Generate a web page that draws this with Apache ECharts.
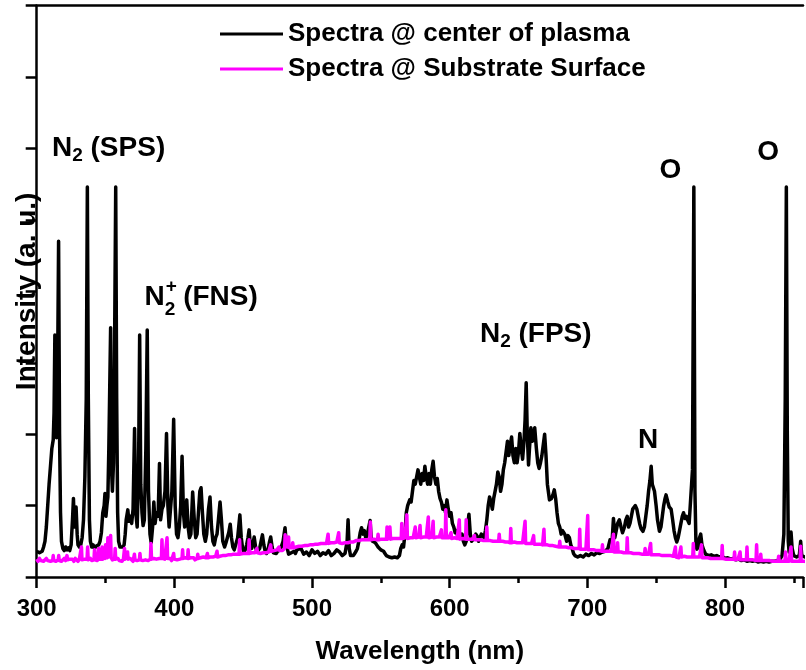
<!DOCTYPE html>
<html>
<head>
<meta charset="utf-8">
<title>Optical emission spectra</title>
<script src="https://cdn.jsdelivr.net/npm/echarts@6/dist/echarts.min.js"></script>
<style>
  html, body { margin: 0; padding: 0; background: #fff; }
  #chart { width: 806px; height: 670px; }
</style>
</head>
<body>
<div id="chart"></div>
<script>
// Wavelength axis: labelled ticks (nm) and the visible end of the scale
const xTicks = [300, 400, 500, 600, 700, 800];
const xMin = 300, xMax = 856.7;

// Emission spectrum taken at the centre of the plasma: [wavelength nm, intensity a.u.]
const centerSpectrum = [
  [300,0.36],[302,0.34],[304,0.36],[305,0.42],[306,0.5],[307,0.7],[308,1.0],[309,1.3],[310,1.55],[311,1.8],[312,1.92],[312.6,2.3],[313.2,3.39],[313.8,2.2],[314.4,1.95],[315.0,2.4],[315.9,4.70],[316.6,2.0],[317.3,0.9],[318,0.5],[319,0.4],[320,0.37],[321,0.42],[322,0.38],[323,0.41],[324,0.37],[325,0.45],[326,0.8],[326.7,1.1],[327.4,0.7],[328,0.85],[328.6,0.98],[329.4,0.6],[330,0.45],[331,0.42],[332,0.45],[333,0.55],[334,0.8],[335,1.4],[336,2.5],[336.8,5.46],[337.5,2.5],[338.3,0.8],[339,0.5],[340,0.42],[341,0.45],[342,0.4],[343,0.43],[344,0.41],[345,0.45],[346,0.5],[347,0.62],[348,0.9],[349,1.0],[349.6,1.17],[350.3,0.85],[351,1.0],[351.7,1.12],[352.4,1.8],[353.7,3.49],[354.4,1.5],[355,1.2],[355.8,1.6],[356.5,3.0],[357.4,5.46],[358.1,2.5],[358.8,0.9],[359.5,0.5],[360.5,0.42],[361.5,0.4],[362.5,0.42],[363.5,0.45],[364.3,0.6],[365,0.8],[366.2,0.94],[367,0.78],[368,0.85],[369,0.75],[370,0.95],[371.1,2.08],[372,0.9],[373,0.7],[374,1.5],[374.8,3.39],[375.6,1.3],[376.5,0.9],[377.3,0.72],[378.2,0.8],[379.3,1.8],[380.3,3.46],[381.2,1.2],[382.3,0.6],[383.2,0.48],[384.2,0.7],[385.1,1.05],[386,0.75],[387,0.9],[388.2,0.85],[389.2,1.59],[390,0.8],[391,0.95],[392,1.0],[393.2,1.2],[394.3,2.01],[395.3,1.0],[396.2,0.7],[397,0.9],[398.2,1.2],[399.5,2.21],[400.6,1.0],[401.6,0.6],[402.6,0.55],[403.6,0.7],[404.6,1.0],[405.6,1.69],[406.6,0.9],[407.5,0.7],[408.3,0.8],[409,1.08],[410,0.7],[411,0.55],[412,0.6],[413.3,1.19],[414.5,0.8],[415.5,0.55],[416.5,0.6],[417.5,0.9],[418.5,1.2],[419.4,1.25],[420.4,0.9],[421.4,0.6],[422.5,0.5],[423.5,0.6],[424.8,0.95],[425.9,1.12],[427,0.7],[428,0.5],[429,0.45],[430,0.55],[431,0.6],[432,0.8],[433.2,1.05],[434.2,0.8],[435.2,0.5],[436.5,0.42],[437.5,0.48],[438.5,0.55],[439.5,0.62],[440.6,0.74],[441.5,0.55],[442.5,0.42],[443.5,0.38],[444.5,0.4],[446,0.55],[447.6,0.87],[448.6,0.55],[449.6,0.4],[450.5,0.35],[451.5,0.38],[452.5,0.45],[453.5,0.55],[454.3,0.66],[455.2,0.45],[456.2,0.4],[457.2,0.48],[458,0.56],[459,0.42],[460,0.35],[461,0.34],[462,0.4],[463,0.5],[464,0.59],[465,0.45],[466,0.36],[467,0.33],[468,0.38],[469,0.48],[470,0.56],[471,0.42],[472,0.34],[473,0.32],[474,0.33],[475,0.36],[476,0.35],[477,0.38],[478,0.4],[479,0.5],[480.4,0.69],[481.2,0.5],[482,0.4],[483,0.32],[484,0.3],[485,0.34],[486,0.32],[487,0.36],[488,0.33],[489,0.38],[490,0.36],
  [492,0.4],[494,0.32],[496,0.35],[498,0.3],[500,0.38],[502,0.33],[504,0.36],[506,0.3],[508,0.34],[510,0.32],[512,0.37],[514,0.3],[516,0.33],[518,0.38],[520,0.35],[522,0.3],[524,0.33],[525.5,0.5],[526.2,0.8],[527,0.4],[528,0.3],[529,0.28],[530,0.3],[531,0.33],[532,0.36],[533,0.4],[534,0.5],[535,0.62],[536,0.69],[537,0.6],[538,0.65],[539,0.55],[540,0.58],[541,0.6],[542.2,0.79],[543,0.55],[544,0.5],[545,0.52],[546,0.48],[547,0.45],[548,0.42],[549,0.4],[550,0.38],[551,0.4],[552,0.36],[553,0.33],[554,0.3],[556,0.28],[558,0.27],[560,0.28],[562,0.27],[563.5,0.3],[564.5,0.4],[565.5,0.45],[566.5,0.42],[567.5,0.6],[568.5,0.9],[569.5,1.0],[571,1.08],[572,1.05],[573,1.2],[574,1.35],[575,1.3],[576,1.4],[577,1.5],[578,1.52],[579,1.3],[580,1.45],[581,1.35],[582,1.55],[583,1.4],[584,1.3],[585,1.45],[586,1.3],[587,1.5],[588,1.62],[589,1.4],[590,1.3],[591,1.38],[592,1.2],[593,1.1],[594,1.05],[595,0.95],[596,1.0],[597,0.9],[598,1.08],[599,0.95],[600,0.85],[601,0.9],[602,0.75],[603,0.7],[604,0.62],[605,0.65],[606,0.55],[607,0.6],[608,0.55],[609,0.6],[610,0.5],[611,0.45],[612,0.5],[613,0.7],[614,0.88],[615,0.6],[616,0.5],[617,0.48],[618,0.55],[619,0.6],[620,0.57],[621,0.5],[622,0.55],[623,0.6],[624,0.58],[625,0.55],[626,0.65],[627,0.8],[628,1.0],[629,1.12],[630,1.05],[631,0.95],[632,1.1],[633,1.2],[634,1.3],[635,1.47],[636,1.4],[637,1.2],[638,1.3],[639,1.5],[640,1.6],[641,1.75],[642,1.9],[643,1.7],[644,1.85],[645,1.96],[646,1.7],[647,1.6],[648,1.8],[649,1.6],[650,1.75],[651,2.01],[652,1.8],[653,1.65],[654,1.9],[654.8,2.2],[655.6,2.72],[656.4,2.0],[657.3,1.57],[658,1.8],[659,2.09],[660,1.9],[661,1.95],[661.8,2.09],[663,1.8],[664,1.6],[665,1.52],[666,1.6],[667,1.7],[668,1.85],[669,2.0],[670,1.7],[671,1.3],[672.5,1.08],[674,1.1],[675,1.15],[676,1.22],[677,1.1],[678,0.9],[679,0.75],[680,0.7],[681,0.6],[682,0.65],[683.6,0.6],[685,0.5],[686,0.58],[687,0.55],[688,0.45],[689,0.4],[690,0.33],[691,0.3],[693,0.28],[695,0.3],[697,0.28],[699,0.32],[701,0.3],[703,0.33],[705,0.31],[707,0.34],[709,0.33],[711,0.35],[713,0.36],[715,0.4],[716.5,0.52],[718,0.5],[719,0.82],[720,0.55],[721,0.65],[722,0.75],[723.3,0.8],[724.5,0.7],[725.6,0.62],[727,0.7],[728,0.8],[729,0.85],[730,0.7],[731,0.75],[732,0.85],[733,0.95],[734.9,1.0],[736,0.95],[737,0.85],[738,0.75],[739,0.68],[740.4,0.64],[741.5,0.7],[742.5,0.85],[743.5,1.0],[744.5,1.2],[745.5,1.35],[746.4,1.55],[747.2,1.3],[748.8,1.2],[750,1.0],[751,0.8],[752.4,0.64],[753.5,0.7],[754.5,0.85],[755.5,1.0],[756.5,1.1],[757.2,1.15],[758.5,1.05],[759.5,0.98],[760.9,0.95],[762,0.8],[763,0.65],[764,0.55],[765,0.49],[766,0.55],[767,0.65],[768,0.75],[769,0.85],[769.9,0.9],[771,0.82],[772,0.85],[772.8,0.8],[774,0.75],[775.2,0.75],[776.4,1.5],[777.4,5.46],[778.2,1.2],[778.9,0.5],[779.6,0.39],[780.5,0.42],[781.5,0.55],[782.4,0.6],[783.3,0.45],[784.5,0.38],[786,0.32],[788,0.3],[790,0.31],[792,0.29],[794,0.3],[796,0.28],[798,0.29],[800,0.26],[802,0.27],[804,0.25],[806,0.26],[808,0.24],[810,0.25],[812,0.23],[814,0.24],[816,0.22],[818,0.23],[820,0.22],[822,0.23],[824,0.21],[826,0.22],[828,0.21],[830,0.22],[832,0.21],[834,0.22],[836,0.22],[838,0.23],[840,0.25],[841.5,0.3],[842.8,0.6],[843.8,2.5],[844.6,5.46],[845.3,2.0],[846,0.5],[846.6,0.35],[847.3,0.45],[848,0.63],[848.8,0.4],[850,0.3],[852,0.28],[854,0.3],[855,0.5],[855.8,0.3],[858,0.28],[860,0.27]
];

// Emission spectrum taken at the substrate surface: [wavelength nm, intensity a.u.]
const substrateSpectrum = [
  [300,0.25],[301,0.22],[302,0.26],[303,0.23],[304,0.25],[305,0.22],[306,0.24],[307,0.26],[308,0.23],[309,0.25],[310,0.22],[311,0.24],[311.6,0.23],[312,0.3],[312.4,0.23],[313,0.25],[314,0.22],[315,0.24],[315.6,0.24],[316,0.3],[316.4,0.23],[317,0.25],[318,0.22],[319,0.24],[320,0.26],[321,0.23],[321.6,0.24],[322,0.3],[322.4,0.24],[323,0.22],[324,0.25],[325,0.23],[326,0.25],[327,0.22],[328,0.26],[329,0.24],[330,0.22],[331,0.25],[332.1,0.24],[332.5,0.42],[332.9,0.24],[334,0.22],[335,0.25],[336,0.23],[336.6,0.25],[337,0.42],[337.4,0.24],[338,0.22],[339,0.26],[340,0.23],[341,0.25],[341.6,0.24],[342,0.38],[342.4,0.24],[343,0.26],[344,0.23],[344.6,0.25],[345,0.4],[345.4,0.25],[346,0.23],[347.1,0.25],[347.5,0.42],[347.9,0.25],[348.6,0.27],[349.2,0.3],[349.6,0.26],[350,0.45],[350.4,0.27],[351,0.3],[351.3,0.27],[351.7,0.55],[352.1,0.28],[352.7,0.3],[353.3,0.28],[353.7,0.58],[354.1,0.27],[355,0.24],[356,0.26],[356.6,0.25],[357,0.4],[357.4,0.25],[358,0.23],[359,0.26],[360,0.23],[361,0.25],[362,0.22],[363,0.25],[363.4,0.24],[363.8,0.4],[364.2,0.25],[365,0.23],[365.6,0.25],[366,0.35],[366.4,0.25],[367,0.23],[368,0.26],[369,0.24],[370,0.22],[370.6,0.24],[371,0.32],[371.4,0.24],[372,0.26],[373,0.23],[374,0.25],[374.6,0.24],[375,0.33],[375.4,0.24],[376,0.26],[377,0.23],[378,0.25],[379,0.24],[380,0.26],[381,0.23],[382,0.25],[382.6,0.25],[383,0.47],[383.4,0.25],[384,0.23],[385,0.26],[386,0.24],[387,0.25],[388,0.23],[389,0.26],[390,0.24],[390.6,0.26],[391,0.52],[391.4,0.26],[392,0.24],[393,0.25],[394.3,0.26],[394.7,0.55],[395.1,0.26],[396,0.24],[397,0.26],[398,0.23],[399.1,0.25],[399.5,0.33],[399.9,0.25],[401,0.27],[402,0.24],[403,0.26],[404,0.25],[405.6,0.26],[406,0.38],[406.4,0.26],[407,0.24],[408,0.27],[409,0.25],[409.6,0.26],[410,0.38],[410.4,0.26],[411,0.24],[412,0.27],[413,0.25],[414,0.27],[415,0.24],[416,0.26],[416.6,0.26],[417,0.32],[417.4,0.26],[418,0.25],[419,0.27],[420,0.25],[421,0.28],[422,0.26],[423,0.27],[423.6,0.27],[424,0.33],[424.4,0.27],[425,0.25],[426,0.28],[427,0.26],[428,0.28],[429,0.27],[430,0.29],[430.6,0.28],[431,0.36],[431.4,0.28],[432,0.27],[433,0.29],[434,0.28],[435,0.3],[436,0.28],[437,0.3],[438,0.29],[439,0.31],[440,0.29],[441,0.31],[442,0.3],[443,0.32],[444,0.3],[445,0.32],[446,0.31],[447,0.32],[447.4,0.52],[447.8,0.32],[449,0.31],[450,0.33],[451,0.31],[452,0.33],[453,0.32],[453.9,0.33],[454.3,0.52],[454.7,0.33],[455.5,0.32],[456.5,0.34],[457.5,0.33],[458.5,0.34],[459.6,0.34],[460,0.4],[460.4,0.34],[461.5,0.35],[462.5,0.33],[463.5,0.35],[464.5,0.34],[465.5,0.36],[466.5,0.34],[467.5,0.36],[468.5,0.35],[469.6,0.36],[470,0.45],[470.4,0.36],[471.5,0.35],[472.5,0.37],[473.5,0.36],[474.5,0.38],[475.6,0.37],[476,0.42],[476.4,0.37],[477.5,0.38],[478.5,0.37],[479.5,0.39],[480.1,0.4],[480.5,0.59],[480.9,0.42],[481.6,0.45],[482.2,0.43],[482.6,0.42],[483,0.56],[483.4,0.41],[484.5,0.4],[485.6,0.41],[486,0.48],[486.4,0.41],[487.5,0.4],[488.5,0.42],[489.5,0.41],[490.5,0.43],[491.5,0.41],[492.5,0.43],[493.5,0.42],[494.5,0.44],[495.5,0.42],[496.5,0.44],[497.5,0.43],[498.5,0.45],[499.5,0.43],[500.5,0.45],[501.5,0.44],[502.5,0.46],[503.5,0.44],[504.5,0.46],[505.5,0.45],[506.5,0.47],[507.5,0.45],[508.5,0.47],[509.5,0.46],[510.5,0.47],[511.3,0.47],[511.7,0.6],[512.1,0.47],[513,0.46],[514,0.48],[515,0.46],[516,0.48],[517,0.47],[518,0.49],[519,0.48],[519.4,0.62],[519.8,0.48],[521,0.49],[522,0.47],[523,0.49],[524,0.48],[525,0.5],[526,0.48],[527,0.5],[528,0.49],[529,0.5],[530,0.49],
  [531,0.49],[532,0.51],[533,0.49],[534,0.51],[535,0.5],[536,0.52],[537,0.5],[538,0.52],[539,0.51],[540,0.52],[541,0.5],[542,0.52],[542.4,0.77],[542.8,0.52],[544,0.51],[545,0.53],[546,0.51],[547.6,0.52],[548,0.6],[548.4,0.52],[549.5,0.51],[550.5,0.53],[551.5,0.51],[552.5,0.53],[553.5,0.52],[554.1,0.53],[554.5,0.7],[554.9,0.53],[556.1,0.53],[556.6,0.7],[557.1,0.53],[558,0.52],[559,0.54],[560,0.52],[561,0.54],[562,0.53],[563,0.54],[564,0.52],[564.8,0.54],[565.2,0.75],[565.6,0.54],[566.5,0.53],[567.5,0.55],[568.5,0.54],[568.9,0.87],[569.3,0.54],[570.5,0.53],[571.5,0.55],[572.5,0.54],[573.5,0.55],[574.6,0.55],[575,0.7],[575.4,0.55],[576.5,0.54],[577.5,0.56],[578.1,0.55],[578.5,0.72],[578.9,0.55],[580,0.54],[581,0.56],[582,0.55],[583,0.56],[584.1,0.55],[584.5,0.84],[584.9,0.55],[586,0.54],[587,0.56],[587.6,0.55],[588,0.78],[588.4,0.55],[589.5,0.54],[590.5,0.56],[591.5,0.55],[592.5,0.56],[593.6,0.55],[594,0.66],[594.4,0.55],[595.5,0.54],[596.8,0.55],[597.2,0.94],[597.6,0.55],[598.5,0.54],[599.5,0.55],[600.6,0.54],[601,0.62],[601.4,0.54],[602.5,0.53],[603.5,0.55],[604.5,0.53],[605.5,0.54],[606.6,0.53],[607,0.8],[607.4,0.53],[608.5,0.52],[609.5,0.54],[610.5,0.52],[611.6,0.53],[612,0.8],[612.4,0.53],[613.5,0.52],[614.5,0.53],[615.5,0.51],[616.5,0.53],[617.6,0.52],[618,0.58],[618.4,0.52],[619.5,0.5],[620.5,0.52],[621.5,0.5],[622.5,0.52],[623.5,0.5],[624.5,0.51],[625.5,0.49],[626.6,0.51],[627,0.7],[627.4,0.51],[628.5,0.49],[629.5,0.51],[630.5,0.49],[631.5,0.5],[632.5,0.48],[633.5,0.5],[634.5,0.49],[635.6,0.5],[636,0.6],[636.4,0.5],[637.5,0.48],[638.5,0.5],[639.5,0.48],[640.5,0.49],[641.5,0.47],[642.5,0.49],[644,0.48],[644.4,0.68],[644.8,0.48],[646,0.47],[647,0.49],[648,0.47],[649,0.48],[650,0.46],[651,0.48],[652,0.46],[653,0.48],[654.4,0.47],[654.8,0.78],[655.2,0.47],[656.5,0.46],[657.5,0.47],[658.5,0.45],[659.5,0.47],[660.6,0.46],[661,0.58],[661.4,0.46],[662.5,0.45],[663.5,0.46],[664.5,0.44],[665.5,0.46],[666.5,0.44],[667.5,0.45],[668.1,0.45],[668.5,0.67],[668.9,0.45],[670,0.43],[671,0.45],[672,0.43],[673,0.44],[674,0.42],[675,0.44],[676,0.42],[677,0.43],[678,0.41],[679.6,0.42],[680,0.5],[680.4,0.42],[681.5,0.41],[682.5,0.42],[683.5,0.4],[684.5,0.42],[685.5,0.4],[686.5,0.41],[687.5,0.39],[688.5,0.41],[689.5,0.39],[690.5,0.4],[691.5,0.38],[692.5,0.4],[693.5,0.38],[694.1,0.4],[694.5,0.67],[694.9,0.39],[696,0.38],[697,0.39],[698,0.37],[699,0.39],[699.9,0.38],[700.3,0.86],[700.7,0.38],[702,0.37],[703,0.38],[704,0.36],[705,0.38],[706,0.36],[707,0.37],[708,0.35],[709,0.37],[710,0.35],[710.6,0.36],[711,0.45],[711.4,0.36],[712.5,0.35],[713.5,0.36],[714.5,0.34],[715.5,0.36],[716.5,0.34],[717.5,0.36],[718.6,0.35],[719,0.6],[719.4,0.35],[720.5,0.34],[721.6,0.35],[722,0.48],[722.4,0.35],[723.5,0.33],[724.5,0.35],[725.5,0.33],[726.5,0.34],[727.5,0.33],[728.6,0.34],[729,0.55],[729.4,0.34],[730.5,0.32],[731.5,0.34],[732.5,0.32],[733.5,0.33],[734.5,0.31],[735.5,0.33],[736.5,0.31],[737.5,0.33],[738.5,0.31],[739.5,0.32],[740.5,0.31],[741.6,0.32],[742,0.4],[742.4,0.32],[743.5,0.3],[744.5,0.32],[745.6,0.31],[746,0.47],[746.4,0.31],[747.5,0.3],[748.5,0.31],[749.5,0.29],[750.5,0.31],[751.5,0.29],[752.5,0.31],[753.5,0.29],[754.5,0.3],[755.5,0.29],[756.5,0.3],[757.5,0.28],[758.5,0.3],[759.5,0.28],[760.5,0.3],[761.5,0.28],[762.5,0.29],[763.6,0.28],[764,0.42],[764.4,0.28],[765.5,0.29],[766.5,0.27],[767.6,0.29],[768,0.42],[768.4,0.28],[769.5,0.27],[770.5,0.29],[771.5,0.27],[772.5,0.28],[773.5,0.27],[774.5,0.28],[775.5,0.26],[776.6,0.28],[777,0.47],[777.4,0.28],[778.5,0.27],[779.5,0.28],[780.5,0.26],[781.5,0.28],[782.6,0.27],[783,0.45],[783.4,0.27],[784.5,0.26],[785.5,0.27],[786.5,0.25],[787.5,0.27],[788.5,0.25],[789.5,0.26],[790.5,0.25],[791.5,0.26],[792.5,0.24],[793.5,0.26],[794.5,0.24],[795.5,0.26],[796.5,0.25],[797.6,0.26],[798,0.44],[798.4,0.26],[799.5,0.24],[800.5,0.25],[801.5,0.24],[802.5,0.25],[803.5,0.23],[804.5,0.25],[805.5,0.23],[806.6,0.25],[807,0.35],[807.4,0.24],[808.5,0.23],[809.5,0.25],[810.6,0.24],[811,0.35],[811.4,0.24],[812.5,0.23],[813.5,0.24],[814.5,0.22],[815.6,0.24],[816,0.42],[816.4,0.24],[817.5,0.23],[818.5,0.24],[819.5,0.22],[820.5,0.24],[821.5,0.22],[822.6,0.23],[823,0.45],[823.4,0.23],[824.5,0.22],[825.6,0.23],[826,0.32],[826.4,0.23],[827.5,0.22],[828.5,0.23],[829.5,0.21],[830.5,0.23],[831.5,0.21],[832.5,0.23],[833.5,0.21],[834.5,0.22],[835.5,0.21],[836.5,0.22],[837.5,0.21],[838.6,0.22],[839,0.29],[839.4,0.22],[840.5,0.21],[841.5,0.22],[842.5,0.21],[843.6,0.22],[844,0.35],[844.4,0.22],[845.5,0.21],[846.5,0.22],[847.6,0.22],[848,0.42],[848.4,0.22],[849.5,0.21],[850.5,0.22],[851.5,0.21],[852.5,0.22],[853.5,0.21],[854.6,0.22],[855,0.43],[855.4,0.22],[856.5,0.21],[858,0.22],[860,0.21]
];

const seriesNames = ['Spectra @ center of plasma', 'Spectra @ Substrate Surface'];

// Band / line assignments, anchored in data space [nm, intensity].
// Each part: text, optional 'sub' (subscript) and 'sup' (superscript stacked on the subscript)
const bandLabels = [
  { at: [311.1, 6.01], align: 'left',   parts: [{ t: 'N' }, { t: '2', sub: true }, { t: ' (SPS)' }] },
  { at: [378.4, 3.91], align: 'left',   parts: [{ t: 'N' }, { t: '2', sub: true, sup: '+' }, { t: ' (FNS)' }] },
  { at: [622.0, 3.40], align: 'left',   parts: [{ t: 'N' }, { t: '2', sub: true }, { t: ' (FPS)' }] },
  { at: [744.1, 1.91], align: 'center', parts: [{ t: 'N' }] },
  { at: [760.4, 5.70], align: 'center', parts: [{ t: 'O' }] },
  { at: [831.3, 5.95], align: 'center', parts: [{ t: 'O' }] }
];

const FONT = '"Liberation Sans", Arial, Helvetica, sans-serif';
const chart = echarts.init(document.getElementById('chart'), null, { renderer: 'canvas' });

const axisLineStyle = { color: '#000', width: 2.5 };

chart.setOption({
  animation: false,
  backgroundColor: '#fff',
  grid: { left: 36.7, top: 5.7, right: 0, height: 571.4, containLabel: false },
  legend: {
    orient: 'vertical',
    left: 215,
    top: 14,
    icon: 'rect',
    itemWidth: 63,
    itemHeight: 3,
    itemGap: 5,
    selectedMode: false,
    data: seriesNames,
    textStyle: {
      fontFamily: FONT, fontSize: 26, fontWeight: 'bold', color: '#000',
      lineHeight: 30
    }
  },
  xAxis: [
    {
      // main wavelength axis with labels and major ticks
      type: 'value',
      position: 'bottom',
      min: xMin, max: xMax, interval: 100,
      name: 'Wavelength (nm)',
      nameLocation: 'middle',
      nameGap: 62,
      nameTextStyle: { fontFamily: FONT, fontSize: 26, fontWeight: 'bold', color: '#000' },
      axisLine: { show: true, onZero: false, lineStyle: axisLineStyle },
      axisTick: { show: true, inside: false, length: 11, lineStyle: axisLineStyle },
      splitLine: { show: false },
      axisLabel: {
        show: true, margin: 20, color: '#000',
        fontFamily: FONT, fontSize: 24, fontWeight: 'bold',
        formatter: v => (xTicks.indexOf(v) >= 0 ? String(v) : '')
      }
    },
    {
      // half-step minor ticks on the same baseline
      type: 'value',
      position: 'bottom',
      min: xMin, max: xMax, interval: 50,
      axisLine: { show: false, onZero: false },
      axisTick: { show: true, inside: false, length: 6, lineStyle: axisLineStyle },
      axisLabel: { show: false },
      splitLine: { show: false }
    },
    {
      // top frame line
      type: 'value',
      position: 'top',
      min: xMin, max: xMax,
      axisLine: { show: true, onZero: false, lineStyle: axisLineStyle },
      axisTick: { show: false },
      axisLabel: { show: false },
      splitLine: { show: false }
    }
  ],
  yAxis: {
    type: 'value',
    min: 0, max: 8, interval: 1,
    name: 'Intensity (a. u.)',
    nameLocation: 'middle',
    nameGap: -5,
    nameTextStyle: { fontFamily: FONT, fontSize: 28, fontWeight: 'bold', color: '#000' },
    axisLine: { show: true, onZero: false, lineStyle: axisLineStyle },
    axisTick: { show: true, inside: false, length: 11, lineStyle: axisLineStyle },
    axisLabel: { show: false },
    splitLine: { show: false }
  },
  series: [
    {
      name: seriesNames[0],
      type: 'line',
      xAxisIndex: 0,
      data: centerSpectrum,
      showSymbol: false,
      symbol: 'none',
      smooth: false,
      sampling: null,
      lineStyle: { color: '#000', width: 3.5, join: 'round' },
      itemStyle: { color: '#000' },
      z: 2
    },
    {
      name: seriesNames[1],
      type: 'line',
      xAxisIndex: 0,
      data: substrateSpectrum,
      showSymbol: false,
      symbol: 'none',
      smooth: false,
      lineStyle: { color: '#ff00ff', width: 3.5, join: 'round' },
      itemStyle: { color: '#ff00ff' },
      z: 3
    }
  ]
});

// Band labels with chemical sub/superscripts, placed from data coordinates
const measureCtx = document.createElement('canvas').getContext('2d');
function textWidth(str, size) {
  measureCtx.font = 'bold ' + size + 'px ' + FONT;
  return measureCtx.measureText(str).width;
}

const MAIN = 28, SMALL = 19;
const elements = [];
bandLabels.forEach(lab => {
  const p = chart.convertToPixel({ gridIndex: 0 }, lab.at);
  let total = 0;
  lab.parts.forEach(pt => { total += textWidth(pt.t, pt.sub ? SMALL : MAIN); });
  let x = lab.align === 'center' ? p[0] - total / 2 : p[0];
  lab.parts.forEach(pt => {
    const size = pt.sub ? SMALL : MAIN;
    const dy = pt.sub ? (pt.sup ? 12 : 8) : 0;
    elements.push({
      type: 'text', x: x, y: p[1] + dy, silent: true,
      style: {
        text: pt.t, fill: '#000', font: 'bold ' + size + 'px ' + FONT,
        textAlign: 'left', textVerticalAlign: 'middle'
      }
    });
    if (pt.sup) {
      elements.push({
        type: 'text', x: x + 1, y: p[1] - 11, silent: true,
        style: {
          text: pt.sup, fill: '#000', font: 'bold ' + SMALL + 'px ' + FONT,
          textAlign: 'left', textVerticalAlign: 'middle'
        }
      });
    }
    x += textWidth(pt.t, size);
  });
});
chart.setOption({ graphic: { elements: elements } });
</script>
</body>
</html>
